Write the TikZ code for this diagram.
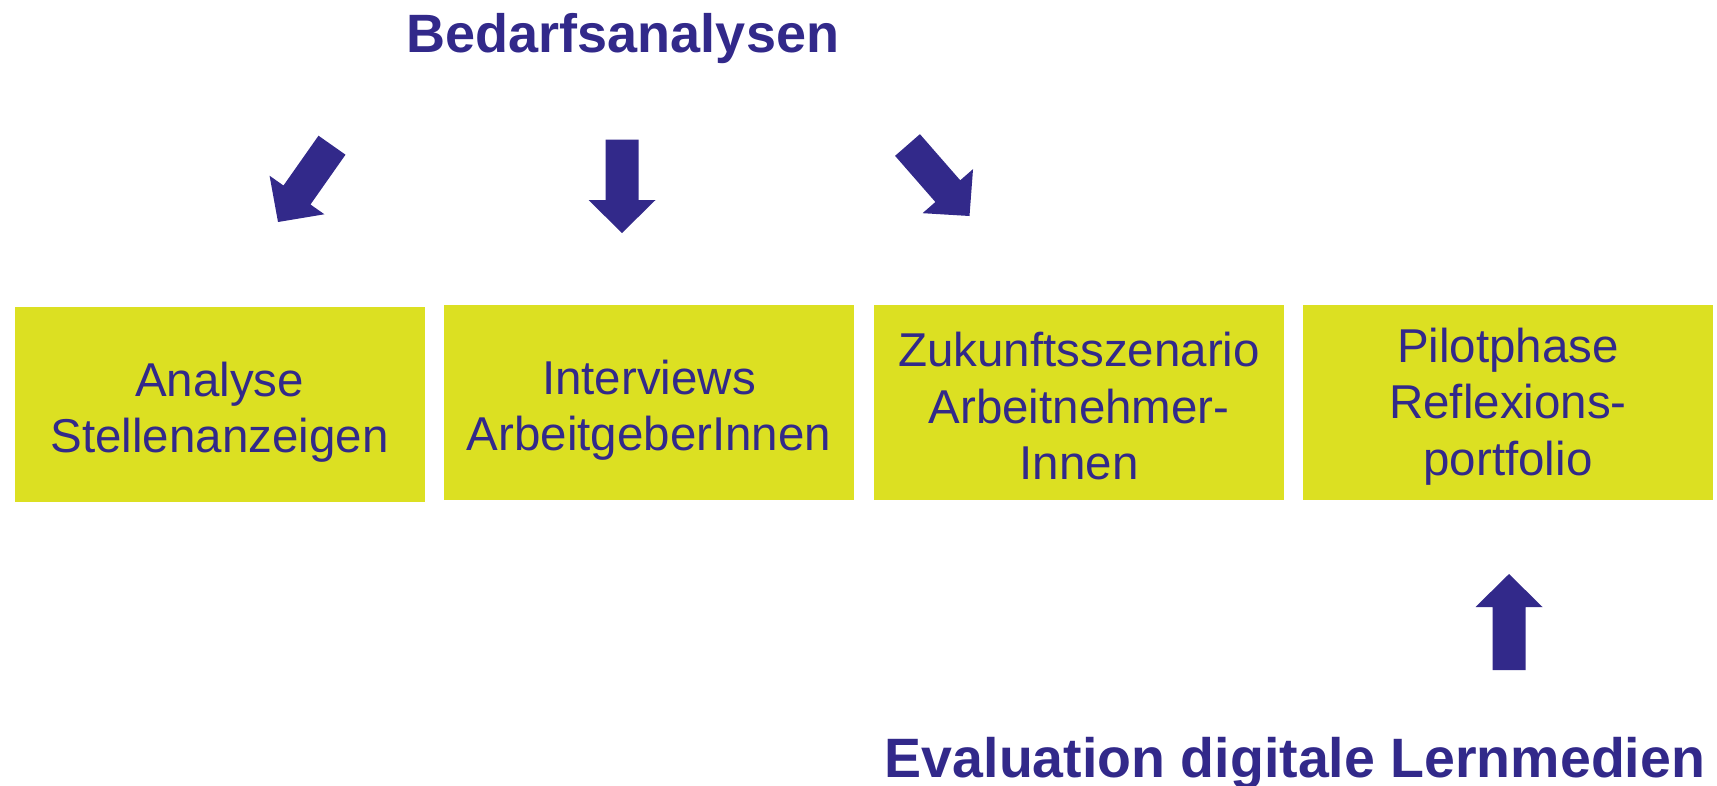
\documentclass[tikz,border=0pt]{standalone}
\usepackage{fontspec}
\setmainfont{Liberation Sans}
\usetikzlibrary{calc}
\definecolor{navy}{HTML}{32298A}
\definecolor{lime}{HTML}{DCE022}
\newcommand\bkarrow[2]{%
  \coordinate (hb) at ($(#2)!33pt!(#1)$);
  \fill[navy] ($(#1)!16.5pt!90:(#2)$) -- ($(hb)!16.5pt!90:(#2)$) -- ($(hb)!33.5pt!90:(#2)$) -- (#2)
    -- ($(hb)!33.5pt!-90:(#2)$) -- ($(hb)!16.5pt!-90:(#2)$) -- ($(#1)!16.5pt!-90:(#2)$) -- cycle;}
\begin{document}
\begin{tikzpicture}[x=1pt,y=-1pt,
  box/.style={fill=lime, draw=none, inner sep=0pt, minimum width=410pt, minimum height=195pt},
  boxtext/.style={inner sep=0pt, text=navy, align=center, font=\fontsize{47.5}{56.5}\selectfont},
  title/.style={text=navy, inner sep=0pt, anchor=base}]
\useasboundingbox (0,0) rectangle (1717,785);
\node[box] (b1) at (219.5,404.5) {};
\node[box] (b2) at (649,402.5) {};
\node[box] (b3) at (1079,402.5) {};
\node[box] (b4) at (1508,402.5) {};
\node[boxtext] (l1) at ([yshift=-7.5pt]b1.center) {Analyse\\Stellenanzeigen};
\node[boxtext] (l2) at ([yshift=-7.5pt]b2.center) {Interviews\\ArbeitgeberInnen};
\node[boxtext] (l3) at ([yshift=-4pt]b3.center) {Zukunftsszenario\\Arbeitnehmer-\\Innen};
\node[boxtext] (l4) at ([yshift=-4pt]b4.center) {Pilotphase\\Reflexions-\\portfolio};
\node[title, font=\fontsize{54}{60}\selectfont\bfseries] (t1) at (623,52.5) {Bedarfsanalysen};
\node[title, font=\fontsize{55.5}{60}\selectfont\bfseries] (t2) at (1295,777) {Evaluation digitale Lernmedien};
\coordinate (a1t) at (332,145.2); \coordinate (a1h) at (278,222);
\coordinate (a2t) at (622,139.5); \coordinate (a2h) at (622,233);
\coordinate (a3t) at (907.5,145); \coordinate (a3h) at (969.5,216);
\coordinate (a4t) at (1509,670); \coordinate (a4h) at (1509,574);
\bkarrow{a1t}{a1h}
\bkarrow{a2t}{a2h}
\bkarrow{a3t}{a3h}
\bkarrow{a4t}{a4h}
\end{tikzpicture}
\end{document}
